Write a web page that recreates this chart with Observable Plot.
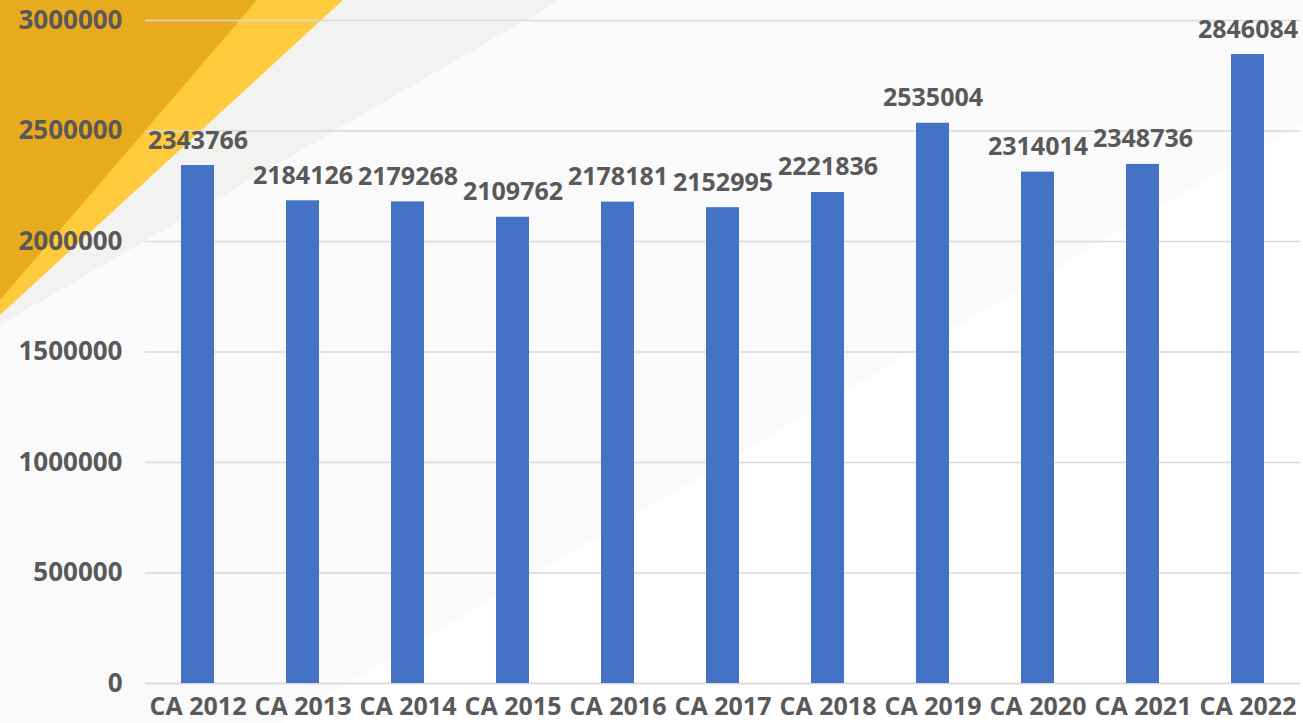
<!DOCTYPE html>
<html>
<head>
<meta charset="utf-8">
<script src="https://cdn.jsdelivr.net/npm/d3@7"></script>
<script src="https://cdn.jsdelivr.net/npm/@observablehq/plot@0.6"></script>
<style>
  html, body { margin: 0; padding: 0; background: #fafafa; }
  #wrap { position: relative; width: 1303px; height: 723px; overflow: hidden; }
  #bg { position: absolute; left: 0; top: 0; }
  #chart { position: absolute; left: 0; top: 0; }
</style>
</head>
<body>
<div id="wrap">
  <svg id="bg" width="1303" height="723" xmlns="http://www.w3.org/2000/svg">
    <rect width="1303" height="723" fill="#fafafa"/>
    <polygon points="280,723 1303,123 1303,723" fill="#ffffff"/>
    <polygon points="0,0 560,0 0,325" fill="#f2f2f0"/>
    <polygon points="0,0 343,0 0,315" fill="#fdcb3b"/>
    <polygon points="0,0 257,0 0,300" fill="#e9ab1e"/>
  </svg>
  <div id="chart"></div>
</div>
<script>
const categories = ["CA 2012","CA 2013","CA 2014","CA 2015","CA 2016","CA 2017","CA 2018","CA 2019","CA 2020","CA 2021","CA 2022"];
const values = [2343766, 2184126, 2179268, 2109762, 2178181, 2152995, 2221836, 2535004, 2314014, 2348736, 2846084];
const yTicks = [0, 500000, 1000000, 1500000, 2000000, 2500000, 3000000];

const data = categories.map((c, i) => ({category: c, value: values[i]}));
const font = "'Open Sans', 'DejaVu Sans', sans-serif";

const chart = Plot.plot({
  width: 1303,
  height: 723,
  marginLeft: 145,
  marginRight: 3,
  marginTop: 20,
  marginBottom: 40,
  style: {background: "transparent", fontFamily: font, fontWeight: "bold", color: "#595959", overflow: "visible"},
  x: {domain: categories, paddingInner: 0.686, paddingOuter: 0.343, label: null},
  y: {domain: [0, 3000000], label: null},
  marks: [
    Plot.gridY(yTicks, {stroke: "#d9d9d9", strokeOpacity: 1, strokeWidth: 1.5}),
    Plot.ruleY([0], {stroke: "#d9d9d9", strokeWidth: 1.5}),
    Plot.barY(data, {x: "category", y: "value", fill: "#4472c4"}),
    Plot.text(data, {x: "category", y: "value", text: d => String(d.value), dy: -25, lineAnchor: "middle", fontSize: 25, fontWeight: "bold", fill: "#595959", fontFamily: font}),
    Plot.axisY({ticks: yTicks, tickFormat: d3.format("d"), tickSize: 0, tickPadding: 23, fontSize: 26, fontWeight: "bold", fill: "#595959", label: null}),
    Plot.axisX({tickSize: 0, tickPadding: 14, fontSize: 25, fontWeight: "bold", fill: "#595959", label: null})
  ]
});
document.getElementById("chart").appendChild(chart);
</script>
</body>
</html>
